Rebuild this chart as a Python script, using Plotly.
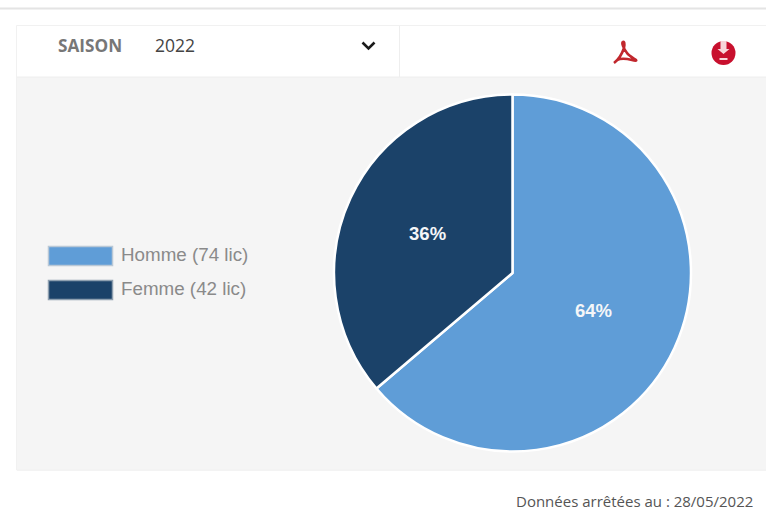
import plotly.graph_objects as go

categories = ["Homme", "Femme"]
licences = [74, 42]
colors = ["#5F9DD7", "#1B4269"]
season_label = "SAISON"
season_value = "2022"
footer_text = "Données arrêtées au : 28/05/2022"

W, H = 766, 524
def X(p): return p / W
def Y(p): return 1 - p / H

# pie box in pixels
cx, cy, r = 512.5, 273, 178.5

fig = go.Figure(go.Pie(
    labels=categories, values=licences, sort=False, direction="clockwise", rotation=0,
    marker=dict(colors=colors, line=dict(color="#FFFFFF", width=2.5)),
    texttemplate="%{percent:.0%}", textposition="inside", insidetextorientation="horizontal",
    textfont=dict(family="Liberation Sans", size=18.5, color="#F4F6F8", weight="bold"),
    hoverinfo="label+percent", showlegend=False,
    domain=dict(x=[X(cx - r), X(cx + r)], y=[Y(cy + r), Y(cy - r)]),
))

def rect(x0, y0, x1, y1, fill, line=None, lw=1, layer="below"):
    return dict(type="rect", xref="paper", yref="paper", x0=X(x0), x1=X(x1), y0=Y(y0), y1=Y(y1),
                fillcolor=fill, line=dict(color=line or fill, width=lw if line else 0), layer=layer)

def hline(x0, x1, y, color, w=1):
    return dict(type="line", xref="paper", yref="paper", x0=X(x0), x1=X(x1), y0=Y(y), y1=Y(y),
                line=dict(color=color, width=w), layer="below")

def path(points, close=False):
    s = ""
    for i, (a, b) in enumerate(points):
        s += ("M" if i == 0 else "L") + f"{a},{b} "
    return s + ("Z" if close else "")

shapes = [
    hline(0, W, 8.5, "#E4E4E4", 2),
    rect(16.5, 25.5, 770, 470, "#FFFFFF", "#F1F1F1", 1),
    rect(17, 77, 770, 469.5, "#F5F5F5"),
    hline(17, W, 77, "#EEEEEE", 1),
    hline(17, W, 470, "#EEEEEE", 1),
    dict(type="line", xref="x", yref="y", x0=399.5, x1=399.5, y0=26, y1=77, line=dict(color="#EEEEEE", width=1), layer="below"),
    # chevron
    dict(type="path", xref="x", yref="y", path=path([(362.5, 42.5), (368.5, 48.5), (374.5, 42.5)]),
         line=dict(color="#1A1A1A", width=2.6), fillcolor="rgba(0,0,0,0)"),
    # legend swatches
    rect(48.5, 246.5, 112.5, 265.5, colors[0], "#B9C8D6", 1.5),
    rect(48.5, 280.5, 112.5, 299.5, colors[1], "#8FA0B0", 1.5),
    # acrobat-like icon
    dict(type="path", xref="x", yref="y",
         path="M614,63 C618,60 622,54 624,48 C625,43 624,41 623,42 C621,43 624,49 627,53 C629,56 635,59 636,60 C637,61 635,61 632,60 C628,59 621,58 617,60",
         line=dict(color="#C1272D", width=2.6), fillcolor="rgba(0,0,0,0)"),
    # download icon
    dict(type="circle", xref="x", yref="y", x0=711.5, x1=735.5, y0=41, y1=65, fillcolor="#C8102E", line=dict(width=0)),
    dict(type="path", xref="x", yref="y", path=path([(720.5, 41), (726.5, 41), (726.5, 49), (729.5, 49), (723.5, 54), (717.5, 49), (720.5, 49)], True),
         fillcolor="#F7D6DA", line=dict(width=0)),
    dict(type="line", xref="x", yref="y", x0=719.5, x1=727.5, y0=59, y1=59, line=dict(color="#F7D6DA", width=2)),
]

def txt(x, y, s, family, size, color, weight="normal", anchor="left"):
    return dict(xref="paper", yref="paper", x=X(x), y=Y(y), text=s, showarrow=False, xanchor=anchor, yanchor="middle",
                font=dict(family=family, size=size, color=color, weight=weight))

annotations = [
    txt(56, 46, season_label, "Open Sans", 17.2, "#777777", "bold"),
    txt(153, 45, season_value, "Open Sans", 17.5, "#444444"),
    txt(119, 254, f"{categories[0]} ({licences[0]} lic)", "Liberation Sans", 18.8, "#8A8A8A"),
    txt(119, 288, f"{categories[1]} ({licences[1]} lic)", "Liberation Sans", 18.8, "#8A8A8A"),
    txt(755, 501, footer_text, "Open Sans", 15, "#555555", anchor="right"),
]

fig.update_layout(
    width=W, height=H, autosize=False,
    margin=dict(l=0, r=0, t=0, b=0),
    paper_bgcolor="#FFFFFF", plot_bgcolor="rgba(0,0,0,0)",
    xaxis=dict(range=[0, W], visible=False, domain=[0, 1], fixedrange=True),
    yaxis=dict(range=[H, 0], visible=False, domain=[0, 1], fixedrange=True),
    shapes=shapes, annotations=annotations,
)
fig.write_html("out.html", post_script="document.body.style.margin='0';document.body.style.overflow='hidden';", config={"displayModeBar": False})
